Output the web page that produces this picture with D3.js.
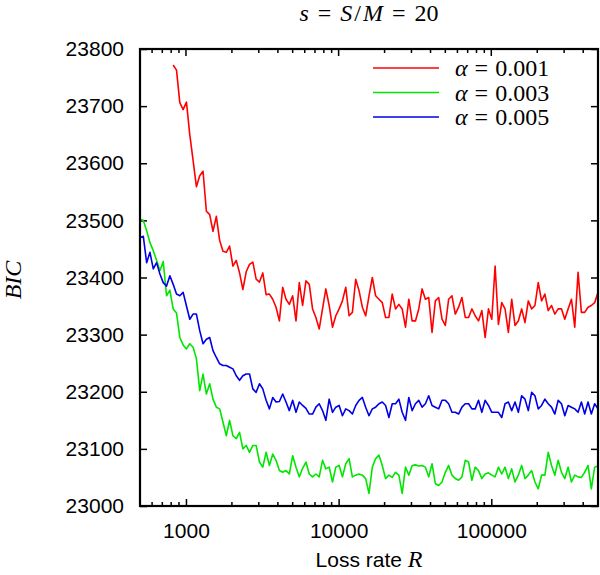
<!DOCTYPE html>
<html>
<head>
<meta charset="utf-8">
<script src="https://cdn.jsdelivr.net/npm/d3@7"></script>
<style>
  body { margin: 0; background: #fff; }
  .tick-label { font-family: "Liberation Sans", sans-serif; font-size: 21px; fill: #000; }
  .math { font-family: "Liberation Serif", serif; font-size: 24px; fill: #000; }
</style>
</head>
<body>
<div id="vis"></div>
<script>
/* BIC against loss rate R for three alpha values (s = S/M = 20) */

// Loss rates R (log grid, 46 steps per decade)
var rates = [
  500, 525.7, 552.6, 581.0, 610.8, 642.2, 675.1, 709.8, 746.2, 784.5, 824.7, 867.1, 911.6, 958.5, 1007.7, 1059.2,
  1113.6, 1170.7, 1230.8, 1293.9, 1360.7, 1430.2, 1503.6, 1581.1, 1662.3, 1747.6, 1837.3, 1931.5, 2030.7, 2134.9,
  2244.4, 2359.6, 2480.7, 2608.0, 2741.8, 2882.5, 3030.5, 3186.0, 3349.5, 3521.3, 3702.1, 3892.0, 4091.8, 4301.7,
  4522.5, 4754.6,
  5000, 5257, 5526, 5810, 6108, 6422, 6751, 7098, 7462, 7845, 8247, 8671, 9116, 9585, 10077, 10592, 11136, 11707,
  12308, 12939, 13607, 14302, 15036, 15811, 16623, 17476, 18373, 19315, 20307, 21349, 22444, 23596, 24807, 26080,
  27418, 28825, 30305, 31860, 33495, 35213, 37021, 38920, 40918, 43017, 45225, 47546,
  50000, 52570, 55260, 58100, 61080, 64220, 67510, 70980, 74620, 78450, 82470, 86710, 91160, 95850, 100770, 105920,
  111360, 117070, 123080, 129390, 136070, 143020, 150360, 158110, 166230, 174760, 183730, 193150, 203070, 213490,
  224440, 235960, 248070, 260800, 274180, 288250, 303050, 318600, 334950, 352130, 370210, 389200, 409180, 430170,
  452250, 475460, 500000
];

// BIC for alpha = 0.001 (red), starts at R ~ 825
var bicA001 = [
  null, null, null, null, null, null, null, null, null, null,
  23772, 23763, 23706, 23694, 23707, 23650, 23605, 23559, 23578, 23586,
  23516, 23510, 23481, 23507, 23465, 23446, 23444, 23455, 23420, 23430,
  23408, 23379, 23410, 23423, 23427, 23397, 23392, 23408, 23370, 23371,
  23362, 23348, 23324, 23383, 23362, 23353, 23368, 23324, 23391, 23351,
  23394, 23388, 23345, 23330, 23310, 23345, 23380, 23351, 23313, 23333,
  23345, 23359, 23383, 23333, 23339, 23397, 23377, 23348, 23333, 23368,
  23400, 23368, 23362, 23356, 23330, 23330, 23371, 23345, 23353, 23345,
  23313, 23362, 23324, 23324, 23345, 23380, 23362, 23365, 23304, 23359,
  23365, 23327, 23316, 23362, 23368, 23336, 23348, 23365, 23330, 23330,
  23345, 23333, 23324, 23342, 23295, 23345, 23327, 23420, 23318, 23356,
  23345, 23304, 23362, 23316, 23324, 23345, 23321, 23359, 23345, 23351,
  23391, 23359, 23371, 23342, 23351, 23336, 23345, 23345, 23327, 23345,
  23362, 23313, 23409, 23339, 23339, 23348, 23351, 23356, 23374
];

// BIC for alpha = 0.003 (green)
var bicA003 = [
  23502, 23500, 23482, 23461, 23447, 23430, 23412, 23428, 23368, 23378,
  23345, 23338, 23295, 23282, 23275, 23284, 23278, 23258, 23202, 23231,
  23196, 23214, 23187, 23173, 23170, 23147, 23123, 23150, 23123, 23118,
  23129, 23100, 23106, 23094, 23106, 23106, 23077, 23068, 23094, 23071,
  23091, 23080, 23062, 23059, 23062, 23056, 23088, 23068, 23051, 23066,
  23077, 23056, 23051, 23056, 23051, 23080, 23065, 23068, 23042, 23068,
  23071, 23051, 23074, 23083, 23051, 23054, 23056, 23054, 23048, 23022,
  23068, 23083, 23089, 23071, 23048, 23054, 23050, 23059, 23054, 23022,
  23068, 23054, 23071, 23072, 23070, 23071, 23068, 23051, 23074, 23039,
  23036, 23042, 23059, 23071, 23054, 23048, 23045, 23051, 23080, 23077,
  23045, 23068, 23062, 23048, 23056, 23058, 23054, 23051, 23068, 23056,
  23068, 23048, 23065, 23042, 23054, 23071, 23048, 23054, 23062, 23042,
  23030, 23054, 23054, 23094, 23071, 23054, 23080, 23059, 23048, 23068,
  23042, 23054, 23051, 23050, 23059, 23071, 23030, 23068, 23070
];

// BIC for alpha = 0.005 (blue)
var bicA005 = [
  23470, 23472, 23426, 23444, 23415, 23426, 23406, 23391, 23385, 23403,
  23388, 23371, 23368, 23374, 23350, 23327, 23336, 23336, 23307, 23284,
  23292, 23295, 23272, 23260, 23249, 23246, 23246, 23243, 23240, 23228,
  23220, 23228, 23231, 23231, 23205, 23199, 23214, 23205, 23185, 23170,
  23190, 23182, 23183, 23196, 23182, 23167, 23185, 23164, 23182, 23176,
  23171, 23161, 23161, 23173, 23179, 23167, 23150, 23187, 23164, 23173,
  23176, 23158, 23170, 23167, 23161, 23176, 23185, 23190, 23173, 23158,
  23170, 23173, 23179, 23182, 23176, 23155, 23179, 23179, 23187, 23164,
  23150, 23190, 23167, 23179, 23185, 23173, 23179, 23193, 23176, 23173,
  23170, 23185, 23185, 23179, 23164, 23164, 23161, 23173, 23179, 23179,
  23170, 23170, 23185, 23164, 23185, 23176, 23164, 23164, 23164, 23155,
  23179, 23182, 23167, 23182, 23164, 23193, 23187, 23167, 23199, 23193,
  23170, 23176, 23187, 23179, 23173, 23161, 23185, 23179, 23158, 23176,
  23173, 23170, 23164, 23182, 23161, 23182, 23161, 23179, 23170
];

// Series labels and colours
var alphaLabels = ['0.001', '0.003', '0.005'];
var seriesColors = ['#ff0000', '#00e600', '#0000e6'];

// Axis ticks
var yTicks = [23000, 23100, 23200, 23300, 23400, 23500, 23600, 23700, 23800];
var xMajorTicks = [1000, 10000, 100000];
var xMinorTicks = [600, 700, 800, 900, 2000, 3000, 4000, 5000, 6000, 7000, 8000, 9000,
  20000, 30000, 40000, 50000, 60000, 70000, 80000, 90000, 200000, 300000, 400000];

// Plot frame inside the 600 x 575 svg
var margin = { left: 140, top: 49, right: 2, bottom: 69 };
var width = 600 - margin.left - margin.right;
var height = 575 - margin.top - margin.bottom;

var svg = d3.select('#vis')
    .append('svg')
    .attr('width', 600)
    .attr('height', 575);

var g = svg.append('g')
    .attr('transform', 'translate(' + margin.left + ',' + margin.top + ')');

var xScale = d3.scaleLog()
    .domain([500, 500000])
    .range([0, width]);

var yScale = d3.scaleLinear()
    .domain([23000, 23800])
    .range([height, 0]);

// Clip the curves to the frame
svg.append('defs').append('clipPath')
    .attr('id', 'plot-clip')
    .append('rect')
    .attr('width', width)
    .attr('height', height);

/* ***** axes: inward ticks on all four sides ***** */
var majorLen = 7, minorLen = 4;

var bottomAxis = d3.axisBottom(xScale)
    .tickValues(xMajorTicks)
    .tickSizeInner(-majorLen)
    .tickSizeOuter(0)
    .tickPadding(majorLen + 10)
    .tickFormat(d3.format('d'));

var bottom = g.append('g')
    .attr('transform', 'translate(0,' + height + ')')
    .call(bottomAxis);
bottom.selectAll('text').attr('class', 'tick-label').attr('font-size', null).attr('font-family', null);

// Minor x ticks on bottom and top
[height, 0].forEach(function(yPos) {
    var dir = yPos === 0 ? 1 : -1;
    g.append('g').selectAll('line.minor')
        .data(xMinorTicks)
        .enter().append('line')
        .attr('x1', function(d) { return xScale(d); })
        .attr('x2', function(d) { return xScale(d); })
        .attr('y1', yPos)
        .attr('y2', yPos + dir * minorLen)
        .attr('stroke', '#000')
        .attr('stroke-width', 1.5);
});

// Major x ticks on top
g.append('g').selectAll('line')
    .data(xMajorTicks)
    .enter().append('line')
    .attr('x1', function(d) { return xScale(d); })
    .attr('x2', function(d) { return xScale(d); })
    .attr('y1', 0)
    .attr('y2', majorLen)
    .attr('stroke', '#000')
    .attr('stroke-width', 1.5);

var leftAxis = d3.axisLeft(yScale)
    .tickValues(yTicks)
    .tickSizeInner(-majorLen)
    .tickSizeOuter(0)
    .tickPadding(majorLen + 9)
    .tickFormat(d3.format('d'));

var left = g.append('g').call(leftAxis);
left.selectAll('text').attr('class', 'tick-label').attr('font-size', null).attr('font-family', null);

// Right side ticks, no labels
g.append('g')
    .attr('transform', 'translate(' + width + ',0)')
    .call(d3.axisRight(yScale).tickValues(yTicks).tickSizeInner(-majorLen).tickSizeOuter(0).tickFormat(''));

g.selectAll('.tick line').attr('stroke-width', 1.5);
g.selectAll('.domain').remove();

/* ***** curves ***** */
var allSeries = [bicA001, bicA003, bicA005];

var line = d3.line()
    .defined(function(d) { return d != null; })
    .x(function(d, i) { return xScale(rates[i]); })
    .y(function(d) { return yScale(d); });

g.append('g')
    .attr('clip-path', 'url(#plot-clip)')
    .selectAll('path')
    .data(allSeries)
    .enter().append('path')
    .attr('d', line)
    .attr('fill', 'none')
    .attr('stroke', function(d, i) { return seriesColors[i]; })
    .attr('stroke-width', 1.6)
    .attr('stroke-linejoin', 'round');

// Frame
g.append('rect')
    .attr('width', width)
    .attr('height', height)
    .attr('fill', 'none')
    .attr('stroke', '#000')
    .attr('stroke-width', 2.2);

/* ***** legend ***** */
var legend = g.append('g')
    .attr('transform', 'translate(' + (373 - margin.left) + ',' + (68 - margin.top) + ')');

var entries = legend.selectAll('g')
    .data(alphaLabels)
    .enter().append('g')
    .attr('transform', function(d, i) { return 'translate(0,' + (i * 24.5) + ')'; });

entries.append('line')
    .attr('x1', 0)
    .attr('x2', 66)
    .attr('stroke', function(d, i) { return seriesColors[i]; })
    .attr('stroke-width', 1.6);

var entryText = entries.append('text')
    .attr('class', 'math')
    .attr('x', 82)
    .attr('y', 8);
entryText.append('tspan').attr('font-style', 'italic').text('α');
entryText.append('tspan').text('=').attr('dx', 7);
entryText.append('tspan').text(function(d) { return d; }).attr('dx', 7);

/* ***** titles ***** */
var title = svg.append('text')
    .attr('class', 'math')
    .attr('x', margin.left + width / 2)
    .attr('y', 21)
    .attr('text-anchor', 'middle');
title.append('tspan').attr('font-style', 'italic').text('s');
title.append('tspan').attr('dx', 9).text('=');
title.append('tspan').attr('dx', 9).attr('font-style', 'italic').text('S');
title.append('tspan').attr('dx', 2).text('/');
title.append('tspan').attr('dx', 2).attr('font-style', 'italic').text('M');
title.append('tspan').attr('dx', 9).text('=');
title.append('tspan').attr('dx', 9).text('20');

var xTitle = svg.append('text')
    .attr('x', margin.left + width / 2)
    .attr('y', 567)
    .attr('text-anchor', 'middle');
xTitle.append('tspan').attr('class', 'tick-label').text('Loss rate ');
xTitle.append('tspan').attr('class', 'math').attr('font-size', '22px').attr('font-style', 'italic').text('R');

svg.append('text')
    .attr('class', 'math')
    .attr('font-style', 'italic')
    .attr('font-size', '21px')
    .attr('text-anchor', 'middle')
    .attr('transform', 'translate(21,280) rotate(-90)')
    .text('BIC');
</script>
</body>
</html>
